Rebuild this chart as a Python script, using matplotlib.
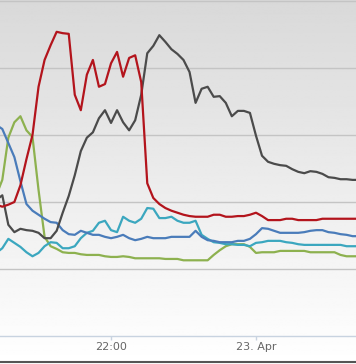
import numpy as np
import matplotlib
matplotlib.use("Agg")
import matplotlib.pyplot as plt
from matplotlib.lines import Line2D

# ===============================
# Data (5-minute samples, minutes relative to 22:00)
# ===============================
minutes = np.arange(-95, 210, 5)

red = [196, 193, 196, 200, 225, 264, 300, 372, 412, 434,
       454, 452, 451, 360, 337, 390, 412, 372, 376, 407,
       424, 387, 415, 419, 379, 228, 206, 197, 191, 187,
       184, 181, 179, 178, 178, 178, 181, 181, 178, 178,
       179, 179, 181, 184, 179, 173, 173, 173, 175, 175,
       173, 173, 173, 173, 175, 175, 175, 175, 175, 175, 175]

black = [203, 210, 166, 155, 160, 158, 157, 154, 146, 146,
         157, 184, 209, 240, 276, 296, 304, 325, 337, 318,
         337, 319, 307, 322, 360, 422, 433, 449, 439, 428,
         421, 412, 394, 348, 369, 372, 357, 358, 348, 328,
         336, 336, 333, 299, 269, 260, 257, 255, 254, 249,
         245, 243, 246, 245, 242, 237, 236, 234, 234, 233, 233]

blue = [315, 309, 288, 267, 231, 197, 187, 181, 175, 170,
        169, 158, 152, 151, 157, 154, 151, 151, 148, 146,
        148, 151, 146, 143, 145, 148, 146, 146, 146, 148,
        148, 148, 148, 157, 148, 143, 142, 140, 140, 140,
        142, 142, 145, 152, 161, 160, 157, 154, 154, 154,
        154, 155, 157, 158, 158, 155, 154, 152, 151, 149, 149]

cyan = [124, 131, 145, 139, 133, 125, 119, 124, 134, 140,
        139, 131, 131, 134, 146, 154, 157, 169, 172, 158,
        155, 178, 172, 169, 175, 191, 190, 176, 176, 178,
        172, 169, 169, 172, 151, 145, 140, 139, 137, 137,
        136, 136, 134, 139, 140, 142, 142, 142, 140, 139,
        137, 136, 136, 136, 136, 136, 136, 136, 134, 134, 134]

green = [210, 233, 296, 319, 328, 307, 297, 218, 148, 134,
         130, 125, 124, 124, 122, 121, 121, 121, 119, 118,
         118, 119, 118, 116, 116, 116, 116, 116, 115, 115,
         115, 113, 113, 113, 113, 113, 121, 128, 134, 137,
         137, 137, 133, 124, 125, 125, 125, 127, 127, 127,
         127, 127, 125, 125, 125, 125, 125, 121, 119, 119, 119]

tick_pos = [0, 120]
tick_labels = ["22:00", "23. Apr"]
grid_levels = [100, 200, 300, 400, 500]

series = [
    (green, "#8db14f"),
    (cyan, "#3ba7bf"),
    (blue, "#4a7cba"),
    (black, "#4b4b4b"),
    (red, "#b3141c"),
]

# ===============================
# Figure
# ===============================
W, H = 356, 364
fig = plt.figure(figsize=(W / 100, H / 100), dpi=100)

# background gradient over the whole chart
bg = fig.add_axes([0, 0, 1, 1], zorder=0)
grad = np.linspace(0.85, 1.0, 256).reshape(-1, 1)
bg.imshow(grad, aspect="auto", cmap="gray", vmin=0, vmax=1,
          extent=[0, 1, 0, 1], origin="upper")
bg.set_axis_off()

plot_bottom = (H - 336) / H
ax = fig.add_axes([0, plot_bottom, 1, 1 - plot_bottom], zorder=1)
ax.patch.set_alpha(0)

for lvl in grid_levels:
    ax.axhline(lvl, color="#c4c4c4", lw=1.0, zorder=1)

for vals, col in series:
    ax.plot(minutes, vals, color=col, lw=1.6, zorder=3,
            solid_joinstyle="round", solid_capstyle="round")

ax.set_xlim(-91.9, 202.8)
ax.set_ylim(0, 501.5)

for s in ["top", "right", "left"]:
    ax.spines[s].set_visible(False)
ax.spines["bottom"].set_color("#c8d3e0")
ax.spines["bottom"].set_linewidth(1.0)
ax.set_yticks([])
ax.set_xticks(tick_pos)
ax.set_xticklabels(tick_labels)
ax.tick_params(axis="x", colors="#c8d3e0", length=3, width=1, pad=1,
               labelcolor="#666666", labelsize=8)

# dark border line at the bottom of the chart
fig.add_artist(Line2D([0, 1], [2.5 / H, 2.5 / H], color="#555555", lw=1.5,
                      transform=fig.transFigure))

fig.savefig("out.png", dpi=100)
